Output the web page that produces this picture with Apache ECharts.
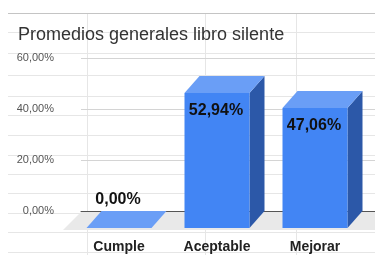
<!DOCTYPE html>
<html>
<head>
<meta charset="utf-8">
<script src="https://cdn.jsdelivr.net/npm/echarts@6/dist/echarts.min.js"></script>
<style>
html,body{margin:0;padding:0;background:#fff;}
#chart{width:375px;height:255px;}
</style>
</head>
<body>
<div id="chart"></div>
<script>
// ---- data ----
const TITLE = 'Promedios generales libro silente';
const CATEGORIES = ['Cumple', 'Aceptable', 'Mejorar'];
const BAR_VALUES = [0.00, 52.94, 47.06];
const Y_MIN = 0, Y_MAX = 60, Y_STEP = 20;

// ---- styling constants ----
const FONT = '"Liberation Sans", Arial, sans-serif';
const DX = 15, DY = 17;       // 3D depth offset
const BAR_W = 65;
const SHIFT = 4;              // back-face center offset from category center
const FRONT = '#4285f4', TOP = '#6a9ef6', SIDE = '#2c58a8';

function fmtPct(v) { return v.toFixed(2).replace('.', ',') + '%'; }

const chart = echarts.init(document.getElementById('chart'), null, {renderer: 'canvas'});

// spreadsheet background lines (decoration)
const bg = [];
const rows = [32, 53, 75, 96, 115, 135, 155, 174, 193, 213, 232, 252];
rows.forEach(y => bg.push({type:'line', z:-10, silent:true,
  shape:{x1:8, y1:y+0.5, x2:375, y2:y+0.5}, style:{stroke:'#e6e6e6', lineWidth:1}}));
[87, 205, 296].forEach(x => bg.push({type:'line', z:-10, silent:true,
  shape:{x1:x+0.5, y1:13, x2:x+0.5, y2:255}, style:{stroke:'#e6e6e6', lineWidth:1}}));
bg.push({type:'line', z:-9, silent:true, shape:{x1:8, y1:13.5, x2:375, y2:13.5},
  style:{stroke:'#c4c4c4', lineWidth:1.2}});

function renderFloor(params, api) {
  const cs = params.coordSys;
  const y0 = api.coord([0, 0])[1] + 1;
  const d = 18;
  return {
    type: 'polygon',
    shape: {points: [[cs.x, y0], [cs.x + cs.width + 20, y0], [cs.x + cs.width + 20, y0 + d], [cs.x - d, y0 + d]]},
    style: {fill: '#e9e9e9'}
  };
}

function renderBar(params, api) {
  const idx = api.value(0);
  const v = api.value(1);
  const base = api.coord([idx, 0]);
  const top = api.coord([idx, v]);
  const bx = base[0] + SHIFT;
  const bl = bx - BAR_W / 2, br = bx + BAR_W / 2;
  const fl = bl - DX, fr = br - DX;
  const byTop = top[1], byBot = base[1];
  const fyTop = byTop + DY, fyBot = byBot + DY;
  const children = [];
  if (byBot - byTop > 0.5) {
    children.push({type:'polygon', shape:{points:[[fr, fyTop], [br, byTop], [br, byBot], [fr, fyBot]]},
      style:{fill: SIDE}});
    children.push({type:'rect', shape:{x: fl, y: fyTop, width: BAR_W, height: fyBot - fyTop},
      style:{fill: FRONT}});
  }
  children.push({type:'polygon', shape:{points:[[fl, fyTop], [bl, byTop], [br, byTop], [fr, fyTop]]},
    style:{fill: TOP}});
  const inside = (byBot - byTop) > 30;
  children.push({type:'text', style:{
    text: fmtPct(v), x: fl + BAR_W / 2 - 1, y: inside ? fyTop + 18 : byTop - 11,
    align:'center', verticalAlign:'middle',
    font: 'bold 16px ' + FONT, fill: '#111'
  }});
  return {type:'group', children};
}

chart.setOption({
  animation: false,
  backgroundColor: '#fff',
  graphic: bg,
  title: {
    text: TITLE, left: 18, top: 26, padding: 0,
    textStyle: {fontFamily: FONT, fontSize: 18, fontWeight: 'normal', color: '#333'}
  },
  grid: {left: 81, right: 0, top: 58, bottom: 44, containLabel: false},
  xAxis: {
    type: 'category', data: CATEGORIES,
    axisLine: {show: true, lineStyle: {color: '#555', width: 1}},
    axisTick: {show: false},
    splitLine: {show: false},
    axisLabel: {margin: 29, fontFamily: FONT, fontSize: 14, fontWeight: 'bold', color: '#222',
      padding: [0, 22, 0, 0]}
  },
  yAxis: {
    type: 'value', min: Y_MIN, max: Y_MAX, interval: Y_STEP,
    axisLine: {show: false}, axisTick: {show: false},
    splitLine: {lineStyle: {color: '#d4d4d4', width: 1}},
    axisLabel: {margin: 27, fontFamily: FONT, fontSize: 11, color: '#555', formatter: v => fmtPct(v)}
  },
  series: [
    {type: 'custom', z: 1, renderItem: renderFloor, data: [[0, 0]], silent: true},
    {type: 'custom', z: 2, renderItem: renderBar, data: BAR_VALUES.map((v, i) => [i, v])}
  ]
});
</script>
</body>
</html>
